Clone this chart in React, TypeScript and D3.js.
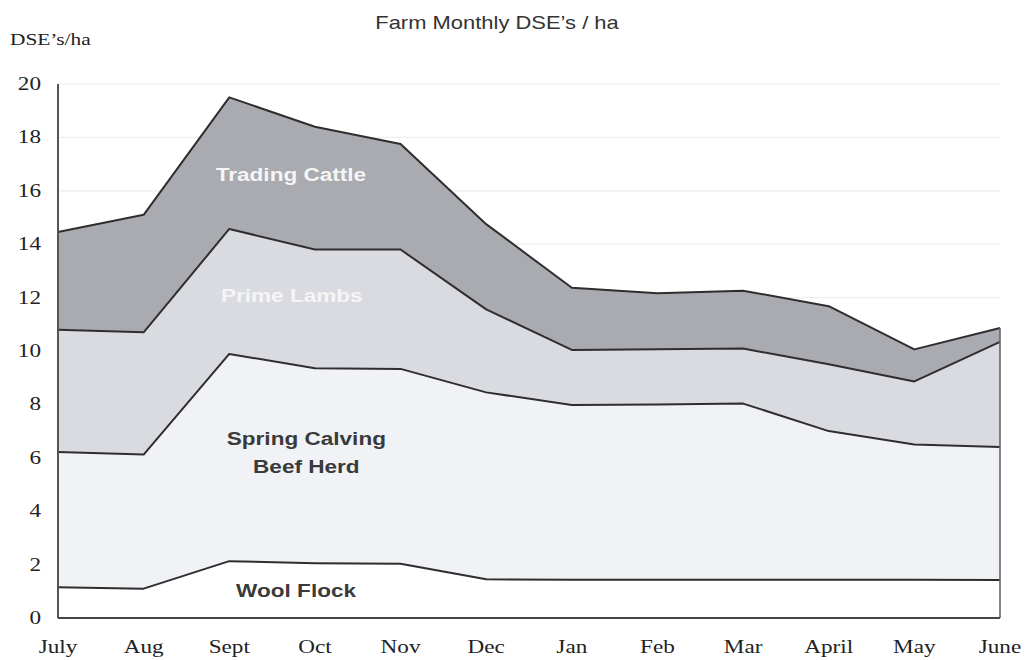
import React from 'react';
import * as d3 from 'd3';

const months = ['July', 'Aug', 'Sept', 'Oct', 'Nov', 'Dec', 'Jan', 'Feb', 'Mar', 'April', 'May', 'June'];
const woolFlock = [1.15, 1.1, 2.13, 2.05, 2.03, 1.45, 1.43, 1.43, 1.43, 1.43, 1.43, 1.42];
const beefHerd = [5.07, 5.02, 7.76, 7.3, 7.3, 7.0, 6.55, 6.57, 6.6, 5.57, 5.07, 4.98];
const primeLambs = [4.58, 4.58, 4.68, 4.45, 4.47, 3.11, 2.06, 2.07, 2.06, 2.5, 2.36, 3.94];
const tradingCattle = [3.66, 4.4, 4.93, 4.6, 3.95, 3.19, 2.33, 2.09, 2.17, 2.18, 1.2, 0.52];
const yTicks = [0, 2, 4, 6, 8, 10, 12, 14, 16, 18, 20];
const seriesKeys = ['wool', 'beef', 'lambs', 'cattle'];
const title = 'Farm Monthly DSE\u2019s / ha';
const yTitle = 'DSE\u2019s/ha';

const W = 1027;
const H = 660;
const SX = 1.22; // horizontal stretch of the scanned text

const fills: Record<string, string> = {
  wool: '#ffffff',
  beef: '#f0f2f6',
  lambs: '#d9dbe0',
  cattle: '#a9abb0',
};

function SText(props: {
  x: number; y: number; anchor?: 'start' | 'middle' | 'end'; size: number;
  family: string; weight?: string | number; fill: string; children: React.ReactNode;
}) {
  const { x, y, anchor = 'start', size, family, weight = 'normal', fill, children } = props;
  return (
    <g transform={`translate(${x},${y}) scale(${SX},1)`}>
      <text x={0} y={0} textAnchor={anchor} fontSize={size} fontFamily={family} fontWeight={weight} fill={fill}>
        {children}
      </text>
    </g>
  );
}

export default function App() {
  const rows = months.map((m, i) => ({
    month: m,
    wool: woolFlock[i],
    beef: beefHerd[i],
    lambs: primeLambs[i],
    cattle: tradingCattle[i],
  }));
  const stacked = d3.stack<any>().keys(seriesKeys)(rows);

  const x = d3.scalePoint<string>().domain(months).range([58, 1000]);
  const y = d3.scaleLinear().domain([0, 20]).range([618, 84]);

  const area = d3.area<any>()
    .x((d) => x(d.data.month) as number)
    .y0((d) => y(d[0]))
    .y1((d) => y(d[1]));
  const line = d3.line<any>()
    .x((d) => x(d.data.month) as number)
    .y((d) => y(d[1]));

  const x0 = x(months[0]) as number;
  const x1 = x(months[months.length - 1]) as number;
  const topLast = stacked[stacked.length - 1][months.length - 1][1];

  const serif = '"Liberation Serif", "Times New Roman", serif';
  const sans = '"Liberation Sans", Arial, sans-serif';

  const xMid = (a: string, b: string, t: number) =>
    (x(a) as number) + t * ((x(b) as number) - (x(a) as number));

  return (
    <svg width={W} height={H} style={{ position: 'absolute', left: 0, top: 0, background: '#fff' }}>
      {/* gridlines */}
      {yTicks.filter((t) => t > 0).map((t) => (
        <line key={t} x1={x0} x2={x1} y1={y(t)} y2={y(t)} stroke="#eeeeee" strokeWidth={1.2} />
      ))}
      {/* areas */}
      {stacked.map((s) => (
        <path key={s.key} d={area(s) as string} fill={fills[s.key]} />
      ))}
      {/* boundary lines */}
      {stacked.map((s) => (
        <path key={'l' + s.key} d={line(s) as string} fill="none" stroke="#2e2e2e" strokeWidth={2} strokeLinejoin="round" />
      ))}
      {/* right edge */}
      <line x1={x1} x2={x1} y1={y(topLast)} y2={y(0)} stroke="#666" strokeWidth={1.6} />
      {/* left axis */}
      <line x1={x0} x2={x0} y1={y(20)} y2={y(0)} stroke="#555" strokeWidth={2} />
      {/* baseline */}
      <line x1={x0} x2={x1} y1={y(0)} y2={y(0)} stroke="#444" strokeWidth={2} />

      {/* y tick labels */}
      {yTicks.map((t) => (
        <SText key={t} x={41} y={y(t) + 6} anchor="end" size={19} family={serif} fill="#222">
          {t}
        </SText>
      ))}
      {/* month labels */}
      {months.map((m) => (
        <SText key={m} x={x(m) as number} y={653} anchor="middle" size={19} family={serif} fill="#222">
          {m}
        </SText>
      ))}

      {/* titles */}
      <SText x={497} y={29} anchor="middle" size={18} family={sans} fill="#333">{title}</SText>
      <SText x={10} y={45} size={17.5} family={serif} fill="#222">{yTitle}</SText>

      {/* series labels */}
      <SText x={xMid('Sept', 'Oct', 0.72)} y={181} anchor="middle" size={18.5} family={sans} weight="bold" fill="#f5f5f5">Trading Cattle</SText>
      <SText x={xMid('Sept', 'Oct', 0.73)} y={302} anchor="middle" size={18.5} family={sans} weight="bold" fill="#f5f5f5">Prime Lambs</SText>
      <SText x={xMid('Sept', 'Oct', 0.9)} y={445} anchor="middle" size={18.5} family={sans} weight="bold" fill="#3a3a3a">Spring Calving</SText>
      <SText x={xMid('Sept', 'Oct', 0.9)} y={473} anchor="middle" size={18.5} family={sans} weight="bold" fill="#3a3a3a">Beef Herd</SText>
      <SText x={xMid('Sept', 'Oct', 0.78)} y={597} anchor="middle" size={18.5} family={sans} weight="bold" fill="#3a3a3a">Wool Flock</SText>
    </svg>
  );
}
